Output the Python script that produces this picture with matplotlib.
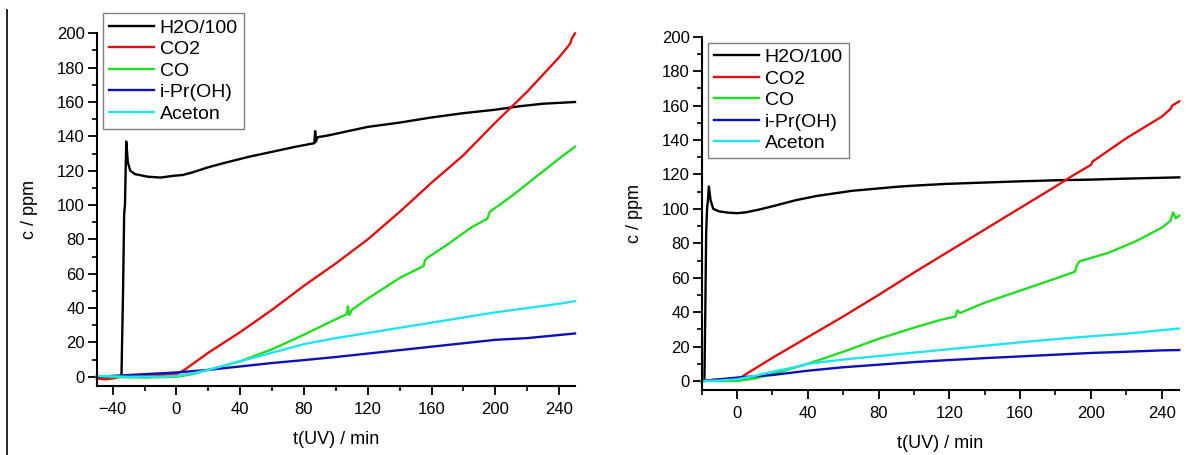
"""Zwei Messreihen: Gasphasen-Konzentrationen waehrend UV-Bestrahlung."""
import matplotlib
matplotlib.use("Agg")
import matplotlib.pyplot as plt
from matplotlib import font_manager
from matplotlib.lines import Line2D
from matplotlib.ticker import MultipleLocator

# schmale Schrift wie im Original, falls vorhanden
_names = {f.name for f in font_manager.fontManager.ttflist}
if "Liberation Sans Narrow" in _names:
    plt.rcParams["font.family"] = ["Liberation Sans Narrow", "DejaVu Sans"]
    TICK_FS, LABEL_FS, LEG_FS = 13, 14, 15.5
else:
    plt.rcParams["font.family"] = ["Liberation Sans", "DejaVu Sans"]
    TICK_FS, LABEL_FS, LEG_FS = 12, 13, 14

LABELS = ["H2O/100", "CO2", "CO", "i-Pr(OH)", "Aceton"]
COLORS = ["#000000", "#e01010", "#22dd22", "#1010b8", "#22e4ee"]

# --- linke Messung ---
L_T_H2O = [-50, -40, -34.5, -33.5, -32.8, -32.3, -31.5, -30.5, -29, -26, -18, -10, -2, 4,
           10, 20, 30, 45, 60, 75, 86.5, 87, 87.5, 88.5, 95, 105, 120, 140, 160, 180,
           200, 215, 230, 240, 250]
L_H2O = [0, 0, 0, 50, 95, 100, 137, 125, 120, 118, 116.5, 116, 117, 117.5,
         119, 122, 124.5, 128, 131, 134, 136, 143, 137, 139.5, 140.5, 142.5, 145.5, 148, 151, 153.5,
         155.5, 157.5, 159, 159.5, 160]
L_T_CO2 = [-50, -45, -40, -35, -20, 0, 5, 20, 40, 60, 80, 100, 120, 140, 160, 180, 200, 220,
           240, 247, 248, 250]
L_CO2 = [-1, -1.5, -1, 0, 0.5, 1.5, 4, 14, 26, 39, 53, 66, 80, 96, 113, 129, 148, 166,
         186, 194, 197, 200]
L_T_CO = [-50, -20, 0, 10, 20, 30, 40, 60, 80, 100, 107, 107.5, 108.5, 110, 120, 140, 155, 156,
          157, 170, 185, 195, 196.5, 198, 210, 225, 240, 250]
L_CO = [0, -0.5, 0, 1.5, 4, 6.5, 9, 16, 24.5, 33.5, 36.5, 41, 36, 39, 45.5, 57.5, 64.5, 68,
        69, 77, 87, 92, 96, 97, 105, 116, 127, 134]
L_T_IPR = [-50, -30, -10, 0, 20, 40, 60, 80, 100, 120, 140, 160, 180, 200, 220, 240, 250]
L_IPR = [0, 1, 2, 2.5, 4, 6, 8, 9.7, 11.5, 13.5, 15.5, 17.5, 19.5, 21.5, 22.5, 24.3, 25.2]
L_T_ACE = [-50, -30, -10, 0, 10, 20, 30, 40, 60, 80, 100, 120, 140, 160, 180, 200, 220, 240, 250]
L_ACE = [0.5, 0, 0, 0.5, 2, 4, 6.5, 9, 14, 19, 22.5, 25.5, 28.5, 31.5, 34.5, 37.5, 40, 42.5, 44]

# --- rechte Messung ---
R_T_H2O = [-20, -18.5, -18, -17.5, -17, -16.5, -16, -15, -13.5, -10, -5, 0, 5, 12, 20, 33,
           45, 55, 65, 76, 90, 100, 118, 140, 160, 180, 200, 225, 250]
R_H2O = [0, 0, 40, 86, 100, 105, 113, 105, 100, 98.5, 97.8, 97.5, 98, 99.5, 101.5, 105,
         107.5, 109, 110.5, 111.5, 112.8, 113.5, 114.5, 115.3, 116, 116.6, 117, 117.7, 118.3]
R_T_CO2 = [-20, -10, 0, 2, 5, 20, 40, 60, 80, 100, 120, 140, 160, 180, 190, 200, 201, 220,
           240, 245, 246, 250]
R_CO2 = [0, 1, 1.5, 2, 4, 13.5, 25.5, 37.5, 50, 63, 75.5, 88, 100.5, 113, 119.5, 125.5, 127.5, 141,
         153.5, 158, 160, 162.5]
R_T_CO = [-20, 0, 10, 20, 30, 40, 60, 80, 100, 115, 123.5, 124.5, 126, 140, 160, 180, 191, 192,
          193.5, 210, 225, 240, 245, 246.5, 248, 250]
R_CO = [0, 0, 1.5, 4, 7, 10, 17, 24.5, 31, 35.5, 37.5, 41, 39.5, 45.5, 52.5, 59.5, 63.5, 67,
        69.5, 74.5, 81, 89, 93, 98, 94.5, 96]
R_T_IPR = [-20, 0, 20, 40, 60, 80, 100, 120, 140, 160, 180, 200, 220, 240, 250]
R_IPR = [0, 2, 3.5, 6, 8, 9.5, 11, 12.2, 13.3, 14.3, 15.3, 16.3, 17, 17.8, 18]
R_T_ACE = [-20, -10, 0, 10, 20, 30, 40, 60, 80, 100, 120, 140, 160, 180, 200, 220, 240, 250]
R_ACE = [0, 0.3, 1, 3, 5.4, 7.5, 10, 12.5, 14.5, 16.5, 18.5, 20.5, 22.5, 24.3, 26, 27.5, 29.5, 30.5]

LEFT = [(L_T_H2O, L_H2O), (L_T_CO2, L_CO2), (L_T_CO, L_CO), (L_T_IPR, L_IPR), (L_T_ACE, L_ACE)]
RIGHT = [(R_T_H2O, R_H2O), (R_T_CO2, R_CO2), (R_T_CO, R_CO), (R_T_IPR, R_IPR), (R_T_ACE, R_ACE)]


def panel(ax, series, xmin, ymin, leg_anchor):
    for (t, c), lab, col in zip(series, LABELS, COLORS):
        ax.plot(t, c, color=col, lw=1.7, label=lab, clip_on=False)
    ax.set_xlim(xmin, 250)
    ax.set_ylim(ymin, 200)
    ax.spines[["top", "right"]].set_visible(False)
    for s in ("left", "bottom"):
        ax.spines[s].set_linewidth(1.5)
    ax.xaxis.set_major_locator(MultipleLocator(40))
    ax.xaxis.set_minor_locator(MultipleLocator(20))
    ax.yaxis.set_major_locator(MultipleLocator(20))
    ax.yaxis.set_minor_locator(MultipleLocator(10))
    ax.tick_params(which="major", length=6.5, width=1.3, labelsize=TICK_FS)
    ax.tick_params(which="minor", length=3.5, width=1.2)
    ax.tick_params(axis="x", which="major", pad=5)
    ax.tick_params(axis="y", which="major", pad=2)
    ax.set_xlabel("t(UV) / min", fontsize=LABEL_FS, labelpad=10)
    ax.set_ylabel("c / ppm", fontsize=LABEL_FS, labelpad=14)
    leg = ax.legend(loc="upper left", bbox_to_anchor=leg_anchor, borderaxespad=0,
                    fontsize=LEG_FS, fancybox=False, framealpha=1, edgecolor="#808080",
                    handlelength=2.3, handletextpad=0.3, labelspacing=0.2, borderpad=0.3)
    leg.get_frame().set_linewidth(1.0)


fig = plt.figure(figsize=(11.9, 4.55), dpi=100)
ax1 = fig.add_axes([0.0813, 0.1516, 0.4019, 0.7752])
ax2 = fig.add_axes([0.5897, 0.1429, 0.4013, 0.7764])
panel(ax1, LEFT, -50, -5.4, (0.0138, 1.0567))
panel(ax2, RIGHT, -20, -5.2, (0.0138, 0.983))

# Randlinie links
fig.add_artist(Line2D([7 / 1190, 7 / 1190], [0, 1 - 10 / 455], color="black", lw=1.2))

fig.savefig("out.png", dpi=100)
